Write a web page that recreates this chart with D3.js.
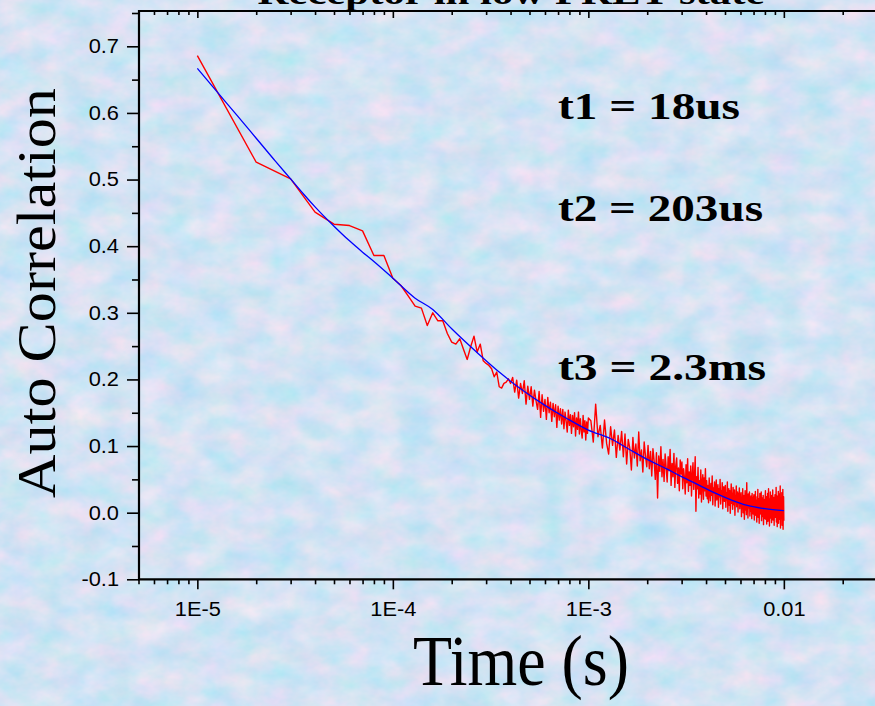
<!DOCTYPE html>
<html>
<head>
<meta charset="utf-8">
<script src="https://cdn.jsdelivr.net/npm/d3@7"></script>
<style>
  html, body { margin: 0; padding: 0; background: #d6e4f3; overflow: hidden; }
  svg { display: block; }
</style>
</head>
<body>
<svg id="chart" width="875" height="706"></svg>
<script>
// ---- data -------------------------------------------------------------
// correlator base lag (s)
const lagStep = 1e-5;

// measured autocorrelation at lags 1..100 x lagStep
const corrEarly = [
  0.686, 0.526, 0.501, 0.451, 0.433, 0.431, 0.423, 0.386, 0.386, 0.352,
  0.341, 0.325, 0.310, 0.307, 0.281, 0.300, 0.288, 0.288, 0.269, 0.256,
  0.253, 0.261, 0.245, 0.230, 0.249, 0.265, 0.241, 0.253, 0.228, 0.224,
  0.221, 0.216, 0.204, 0.211, 0.189, 0.187, 0.194, 0.196, 0.201, 0.194,
  0.203, 0.181, 0.199, 0.172, 0.194, 0.179, 0.198, 0.163, 0.190, 0.170,
  0.189, 0.160, 0.184, 0.168, 0.155, 0.182, 0.143, 0.177, 0.152, 0.170,
  0.140, 0.173, 0.150, 0.166, 0.137, 0.164, 0.144, 0.162, 0.128, 0.160,
  0.139, 0.156, 0.133, 0.155, 0.126, 0.151, 0.137, 0.121, 0.154, 0.131,
  0.147, 0.119, 0.146, 0.129, 0.150, 0.115, 0.142, 0.125, 0.151, 0.118,
  0.141, 0.123, 0.112, 0.146, 0.121, 0.138, 0.109, 0.136, 0.119, 0.142
];

// measured autocorrelation at lags 103, 106, 109 ... 1000 x lagStep
const corrLate = [
  0.138, 0.106, 0.163, 0.114, 0.131, 0.097, 0.139, 0.104, 0.088, 0.129, 0.101, 0.124, 0.083, 0.116, 0.094, 0.122,
  0.084, 0.118, 0.073, 0.110, 0.096, 0.064, 0.113, 0.082, 0.103, 0.070, 0.121, 0.078, 0.094, 0.061, 0.106, 0.085, 0.069,
  0.101, 0.066, 0.092, 0.055, 0.096, 0.078, 0.050, 0.090, 0.022, 0.085, 0.062, 0.099, 0.054, 0.080, 0.047, 0.088, 0.068,
  0.046, 0.084, 0.063, 0.095, 0.041, 0.074, 0.054, 0.089, 0.038, 0.071, 0.082, 0.044, 0.067, 0.033, 0.079, 0.058,
  0.076, 0.036, 0.066, 0.053, 0.028, 0.072, 0.045, 0.081, 0.032, 0.061, 0.041, 0.070, 0.025, 0.058, 0.075, 0.035, 0.053,
  0.084, 0.002, 0.054, 0.036, 0.068, 0.022, 0.048, 0.028, 0.064, 0.016, 0.046, 0.057, 0.020, 0.052, 0.033, 0.066, 0.025,
  0.048, 0.021, 0.041, 0.015, 0.052, 0.030, 0.018, 0.044, 0.026, 0.055, 0.012, 0.037, 0.029, 0.046, 0.010, 0.034, 0.049,
  0.019, 0.031, 0.042, 0.008, 0.036, 0.024, 0.050, 0.013, 0.033, 0.027, 0.045, 0.006, 0.030, 0.039, 0.017, 0.028,
  0.041, 0.008, 0.030, 0.019, 0.046, 0.002, 0.027, 0.036, 0.011, 0.033, -0.001, 0.024, 0.043, 0.014, 0.029, 0.005, 0.038,
  0.020, 0.012, 0.034, -0.004, 0.026, 0.017, 0.040, 0.009, 0.022, 0.031, 0.001, 0.028, 0.015, 0.037, 0.006, 0.019, 0.025,
  0.030, -0.006, 0.021, 0.009, 0.036, 0.000, 0.017, 0.026, -0.010, 0.014, 0.033, 0.004, 0.023, -0.003, 0.045, 0.011, 0.019,
  -0.008, 0.028, 0.007, 0.015, 0.031, -0.005, 0.020, 0.002, 0.025, 0.012, -0.009, 0.029, 0.006, 0.018, -0.002, 0.022,
  0.027, -0.011, 0.015, 0.004, 0.032, -0.004, 0.019, 0.009, -0.014, 0.024, 0.001, 0.035, -0.007, 0.013, 0.021, -0.016, 0.010,
  0.029, -0.002, 0.017, 0.005, 0.031, -0.012, 0.014, 0.022, -0.006, 0.008, 0.026, -0.018, 0.012, 0.003, 0.020, -0.009,
  0.018, 0.033, -0.010, 0.007, 0.024, -0.017, 0.012, 0.002, 0.029, -0.013, 0.015, 0.036, -0.005, 0.009, -0.020, 0.021, 0.004,
  0.031, -0.008, 0.013, 0.026, -0.015, 0.006, 0.019, -0.003, 0.034, -0.011, 0.010, 0.001, 0.023, -0.019, 0.016, 0.008, 0.027,
  -0.007, 0.020, 0.003, 0.038, -0.014, 0.011, 0.025, -0.021, 0.009, 0.017, -0.004, 0.032, -0.016, 0.006, 0.028, -0.010, 0.014,
  0.001, 0.040, -0.023, 0.012, 0.022, -0.008, 0.005, 0.030, -0.019, 0.016, 0.002, 0.035, -0.025, 0.010, 0.024, -0.012
];
const lateFirstLag = 103, lateLagStride = 3;

// three-component diffusion fit
const fitTimes = [
  1e-5, 1.25e-5, 1.6e-5, 2e-5, 2.5e-5, 3e-5, 3.5e-5, 4e-5, 5e-5, 6e-5, 7e-5, 8e-5,
  1e-4, 1.3e-4, 1.6e-4, 2e-4, 2.8e-4, 3.5e-4, 4.5e-4, 6e-4, 7.8e-4,
  1e-3, 1.3e-3, 1.6e-3, 2e-3, 2.5e-3, 3e-3, 3.7e-3, 4.4e-3, 5.4e-3, 6.5e-3, 8e-3, 1e-2
];
const fitValues = [
  0.667, 0.633, 0.596, 0.562, 0.528, 0.501, 0.478, 0.459, 0.430, 0.408, 0.391, 0.377,
  0.352, 0.322, 0.305, 0.276, 0.236, 0.211, 0.186, 0.161, 0.141,
  0.124, 0.111, 0.096, 0.080, 0.066, 0.054, 0.041, 0.030, 0.019, 0.011, 0.006, 0.003
];

const fitLabels = ["t1 = 18us", "t2 = 203us", "t3 = 2.3ms"];
const yTickValues = [-0.1, 0.0, 0.1, 0.2, 0.3, 0.4, 0.5, 0.6, 0.7];
const xTickValues = [1e-5, 1e-4, 1e-3, 1e-2];
const xTickLabels = ["1E-5", "1E-4", "1E-3", "0.01"];
const titleText = "Receptor in low FRET state";
const xTitle = "Time (s)";
const yTitle = "Auto Correlation";

// ---- layout -----------------------------------------------------------
const W = 875, H = 706;
const plot = { left: 139, top: 11, bottom: 579.3 };
const sansFont = "Arial, 'Liberation Sans', sans-serif";
const serifFont = "'Times New Roman', 'Liberation Serif', serif";

const svg = d3.select("#chart");

// textured pale-blue backdrop
const defs = svg.append("defs");
const lace = defs.append("filter").attr("id", "lace")
  .attr("x", 0).attr("y", 0).attr("width", "100%").attr("height", "100%")
  .attr("color-interpolation-filters", "sRGB");
lace.append("feTurbulence").attr("type", "fractalNoise")
  .attr("baseFrequency", "0.03 0.042").attr("numOctaves", 4).attr("seed", 11).attr("result", "n");
lace.append("feColorMatrix").attr("in", "n").attr("type", "matrix")
  .attr("values", "0.32 0 0 0 0.665  0 0.07 0 0 0.855  0 0 0.05 0 0.93  0 0 0 0 1");
svg.append("rect").attr("width", W).attr("height", H).attr("filter", "url(#lace)");

defs.append("clipPath").attr("id", "plotClip").append("rect")
  .attr("x", plot.left).attr("y", plot.top)
  .attr("width", W - plot.left).attr("height", plot.bottom - plot.top);

// ---- scales -----------------------------------------------------------
const x = d3.scaleLog().domain([5e-6, 5e-2]).range([138.5, 138.5 + 4 * 195.5]);
const y = d3.scaleLinear().domain([-0.1, 0.753]).range([plot.bottom, plot.top]);

// ---- series -----------------------------------------------------------
const measured = corrEarly.map((v, i) => ({ t: (i + 1) * lagStep, v }))
  .concat(corrLate.map((v, i) => ({ t: (lateFirstLag + lateLagStride * i) * lagStep, v })));
const fit = fitTimes.map((t, i) => ({ t, v: fitValues[i] }));

const lineGen = d3.line().x(d => x(d.t)).y(d => y(d.v));
const marks = svg.append("g").attr("clip-path", "url(#plotClip)");
marks.append("path").datum(measured)
  .attr("d", lineGen).attr("fill", "none")
  .attr("stroke", "#ff0000").attr("stroke-width", 1.4).attr("stroke-linejoin", "round");
marks.append("path").datum(fit)
  .attr("d", lineGen.curve(d3.curveMonotoneX)).attr("fill", "none")
  .attr("stroke", "#0000ff").attr("stroke-width", 1.3);

// ---- axes -------------------------------------------------------------
const xMinor = x.ticks().filter(t => !xTickValues.some(m => Math.abs(m - t) / m < 1e-6));
const yMinor = y.ticks(17).filter(v => !yTickValues.some(m => Math.abs(m - v) < 1e-6));

function styleAxis(g) {
  g.select(".domain").remove();
  g.selectAll(".tick line").attr("stroke", "#000").attr("stroke-width", 1.6);
  g.selectAll(".tick text").attr("fill", "#000").attr("font-family", sansFont)
    .attr("font-size", 20);
}

// bottom
svg.append("g").attr("transform", `translate(0,${plot.bottom})`)
  .call(d3.axisBottom(x).tickValues(xMinor).tickSize(5).tickFormat(""))
  .call(styleAxis);
const xAxisG = svg.append("g").attr("transform", `translate(0,${plot.bottom})`)
  .call(d3.axisBottom(x).tickValues(xTickValues).tickSize(10).tickPadding(18)
    .tickFormat((d, i) => xTickLabels[i]))
  .call(styleAxis);
xAxisG.selectAll(".tick text").attr("dy", null).attr("y", 37);

// top (ticks pointing into the plot)
svg.append("g").attr("transform", `translate(0,${plot.top})`)
  .call(d3.axisBottom(x).tickValues(xMinor).tickSize(4).tickFormat(""))
  .call(styleAxis);
svg.append("g").attr("transform", `translate(0,${plot.top})`)
  .call(d3.axisBottom(x).tickValues(xTickValues).tickSize(7).tickFormat(""))
  .call(styleAxis);

// left
svg.append("g").attr("transform", `translate(${plot.left},0)`)
  .call(d3.axisLeft(y).tickValues(yMinor).tickSize(7).tickFormat(""))
  .call(styleAxis);
svg.append("g").attr("transform", `translate(${plot.left},0)`)
  .call(d3.axisLeft(y).tickValues(yTickValues).tickSize(12).tickPadding(8)
    .tickFormat(v => v.toFixed(1)))
  .call(styleAxis);

// slightly wide sans labels
svg.selectAll(".tick text").each(function () {
  const w = this.getComputedTextLength();
  if (w > 0) d3.select(this).attr("textLength", w * 1.09).attr("lengthAdjust", "spacingAndGlyphs");
});

// frame lines
const frame = svg.append("g").attr("stroke", "#000").attr("stroke-width", 2.2);
frame.append("line").attr("x1", plot.left).attr("x2", plot.left)
  .attr("y1", plot.top - 1).attr("y2", plot.bottom + 1);
frame.append("line").attr("x1", plot.left - 1).attr("x2", W)
  .attr("y1", plot.bottom).attr("y2", plot.bottom);
frame.append("line").attr("x1", plot.left - 1).attr("x2", W)
  .attr("y1", plot.top).attr("y2", plot.top);

// ---- text -------------------------------------------------------------
function fitText(sel, len) {
  sel.attr("textLength", len).attr("lengthAdjust", "spacingAndGlyphs");
  return sel;
}

// title, mostly above the visible area
fitText(svg.append("text").attr("x", 511).attr("y", 4).attr("text-anchor", "middle")
  .attr("font-family", serifFont).attr("font-weight", "bold").attr("font-size", 34)
  .text(titleText), 507);

// fit time constants
const fitLabelY = [119, 220.5, 380];
const fitLabelW = [182, 205, 208];
fitLabels.forEach((s, i) => {
  fitText(svg.append("text").attr("x", 558).attr("y", fitLabelY[i])
    .attr("font-family", serifFont).attr("font-weight", "bold").attr("font-size", 37)
    .attr("fill", "#000").text(s), fitLabelW[i]);
});

// axis titles
fitText(svg.append("text").attr("transform", "translate(55,293) rotate(-90)")
  .attr("text-anchor", "middle").attr("font-family", serifFont).attr("font-size", 54)
  .attr("fill", "#000").text(yTitle), 410);
fitText(svg.append("text").attr("x", 521).attr("y", 685)
  .attr("text-anchor", "middle").attr("font-family", serifFont).attr("font-size", 72)
  .attr("fill", "#000").text(xTitle), 216);
</script>
</body>
</html>
